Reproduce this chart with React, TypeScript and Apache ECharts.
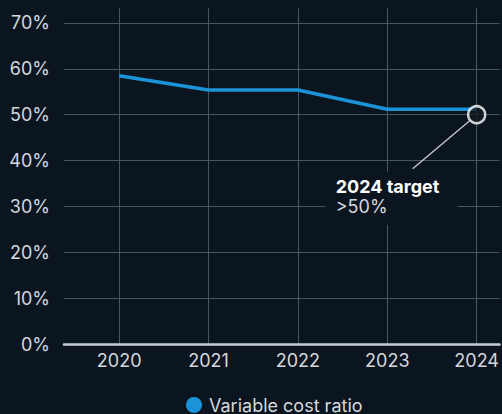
import React, { useEffect, useRef } from "react";
import * as echarts from "echarts";

const years = [2020, 2021, 2022, 2023, 2024];
const variableCostRatio = [58.5, 55.4, 55.4, 51.2, 51.2];
const targetYear = 2024;
const targetValue = 50;
const yTicks = [0, 10, 20, 30, 40, 50, 60, 70];
const seriesName = "Variable cost ratio";
const targetTitle = "2024 target";
const targetText = ">50%";

const BG = "#0b1520";
const FONT = "Inter, 'Noto Sans', sans-serif";
const LABEL = "#d4d8dc";

export default function App() {
  const ref = useRef<HTMLDivElement>(null);
  useEffect(() => {
    if (!ref.current) return;
    const chart = echarts.init(ref.current, undefined, { renderer: "svg" });
    chart.setOption({
      animation: false,
      backgroundColor: BG,
      textStyle: { fontFamily: FONT },
      grid: { left: 64, right: 0, top: 8, bottom: 70, containLabel: false },
      xAxis: {
        type: "value",
        min: 2019.383,
        max: 2024.256,
        axisLine: { show: true, onZero: false, lineStyle: { color: "#c9cdd2", width: 2.5 } },
        axisTick: { show: false, customValues: years },
        axisLabel: {
          customValues: years,
          color: LABEL,
          fontSize: 18,
          margin: 7,
          fontFamily: FONT,
          formatter: (v: number) => String(v),
        },
        splitLine: { show: true, lineStyle: { color: "#4b5560", width: 1 } },
      },
      yAxis: {
        type: "value",
        min: 0,
        max: 73.27,
        axisLine: { show: false },
        axisTick: { show: false, customValues: yTicks },
        axisLabel: {
          customValues: yTicks,
          color: LABEL,
          fontSize: 18,
          margin: 14,
          fontFamily: FONT,
          formatter: (v: number) => `${v}%`,
        },
        splitLine: { show: true, lineStyle: { color: "#4b5560", width: 1 } },
      },
      legend: {
        data: [{ name: seriesName, icon: "circle" }],
        left: 186,
        top: 396,
        padding: 0,
        itemWidth: 16,
        itemHeight: 16,
        itemGap: 6,
        textStyle: { color: LABEL, fontSize: 18, lineHeight: 18, fontFamily: FONT, padding: [0, 0, 0, 2] },
      },
      series: [
        {
          name: seriesName,
          type: "line",
          data: years.map((y, i) => [y, variableCostRatio[i]]),
          showSymbol: false,
          symbol: "none",
          lineStyle: { color: "#1b93d8", width: 3.5 },
          itemStyle: { color: "#1b93d8" },
          z: 3,
        },
        {
          name: "target",
          type: "scatter",
          data: [[targetYear, targetValue]],
          symbol: "circle",
          symbolSize: 17,
          itemStyle: { color: "#141c22", borderColor: "#ffffff", borderWidth: 2.5 },
          z: 5,
        },
      ],
    });
    const p = chart.convertToPixel({ gridIndex: 0 }, [targetYear, targetValue]) as number[];
    chart.setOption({
      graphic: [
        {
          type: "rect",
          shape: { x: p[0] - 151, y: p[1] + 57, width: 132, height: 53 },
          style: { fill: BG },
          z: 10,
        },
        {
          type: "line",
          shape: { x1: p[0] - 7, y1: p[1] + 6, x2: p[0] - 64, y2: p[1] + 54 },
          style: { stroke: "#c9cdd2", lineWidth: 1.2 },
          z: 10,
        },
        {
          type: "text",
          x: p[0] - 141,
          y: p[1] + 63,
          style: {
            text: targetTitle,
            fill: "#ffffff",
            font: `bold 18px ${FONT}`,
          },
          z: 11,
        },
        {
          type: "text",
          x: p[0] - 141,
          y: p[1] + 83,
          style: {
            text: targetText,
            fill: LABEL,
            font: `18px ${FONT}`,
          },
          z: 11,
        },
      ],
    });
    return () => chart.dispose();
  }, []);
  return (
    <div
      ref={ref}
      style={{ position: "absolute", left: 0, top: 0, width: 502, height: 414 }}
    />
  );
}
